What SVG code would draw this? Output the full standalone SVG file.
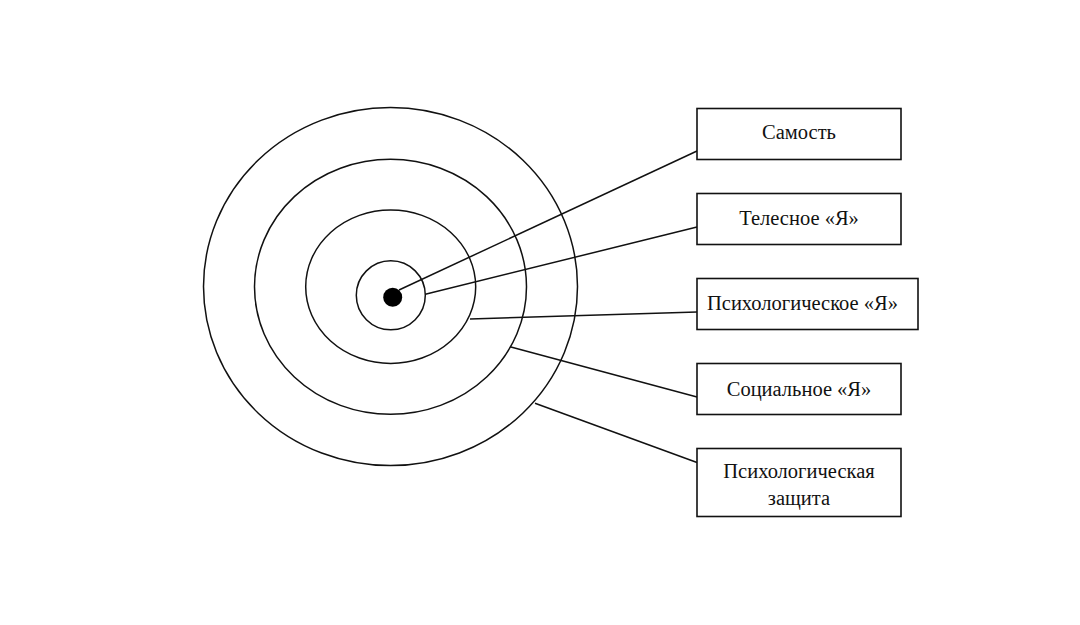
<svg xmlns="http://www.w3.org/2000/svg" width="1080" height="625" viewBox="0 0 1080 625">
  <style>
    .ring { fill: none; stroke: #111; stroke-width: 1.5; }
    .box { fill: #fff; stroke: #111; stroke-width: 1.6; }
    .lbl { font-family: "Liberation Serif", "Times New Roman", serif; font-size: 20.5px; fill: #111; text-anchor: middle; }
    .conn { stroke: #111; stroke-width: 1.5; fill: none; }
  </style>
  <rect x="0" y="0" width="1080" height="625" fill="#fff"/>
  <g id="rings">
    <ellipse id="ring-defense" class="ring" cx="390.5" cy="286.6" rx="187" ry="179"/>
    <ellipse id="ring-social" class="ring" cx="390.5" cy="286.8" rx="136" ry="127.5"/>
    <ellipse id="ring-psych" class="ring" cx="390.7" cy="286.7" rx="85" ry="76.7"/>
    <circle id="ring-body" class="ring" cx="390.8" cy="295.3" r="34.5"/>
    <circle id="self-dot" cx="392.7" cy="297.3" r="9.5" fill="#000"/>
  </g>
  <g id="connectors">
    <line class="conn" x1="399" y1="290" x2="697" y2="151"/>
    <line class="conn" x1="425.3" y1="294.3" x2="697" y2="227"/>
    <line class="conn" x1="470" y1="319" x2="697" y2="312"/>
    <line class="conn" x1="510" y1="346.7" x2="697" y2="397"/>
    <line class="conn" x1="535" y1="403.3" x2="697" y2="462.5"/>
  </g>
  <g id="node-samost">
    <rect class="box" x="697" y="108.5" width="204" height="51"/>
    <text class="lbl" x="799" y="139">Самость</text>
  </g>
  <g id="node-telesnoe">
    <rect class="box" x="697" y="193.5" width="204" height="51"/>
    <text class="lbl" x="799" y="224.5">Телесное «Я»</text>
  </g>
  <g id="node-psych">
    <rect class="box" x="697" y="278.5" width="221" height="51"/>
    <text class="lbl" x="802.5" y="310">Психологическое «Я»</text>
  </g>
  <g id="node-social">
    <rect class="box" x="697" y="363.5" width="204" height="51"/>
    <text class="lbl" x="799" y="395.5">Социальное «Я»</text>
  </g>
  <g id="node-defense">
    <rect class="box" x="697" y="448.5" width="204" height="68"/>
    <text class="lbl" x="799" y="477.5">Психологическая</text>
    <text class="lbl" x="799" y="505">защита</text>
  </g>
</svg>
